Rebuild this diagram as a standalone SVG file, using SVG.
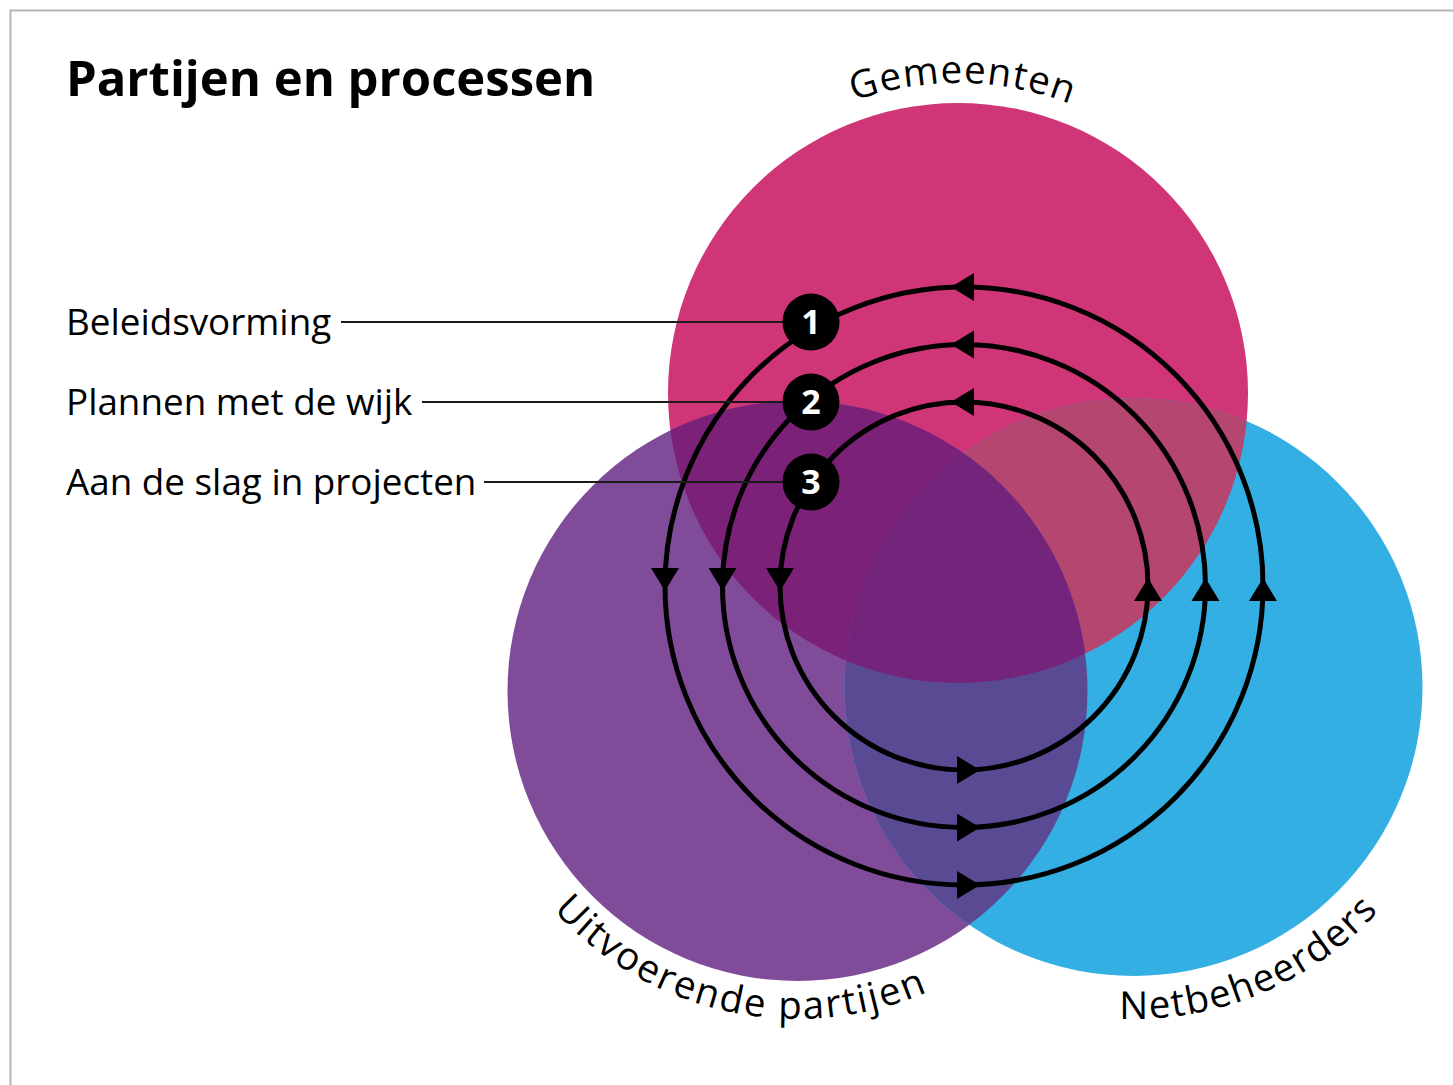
<svg xmlns="http://www.w3.org/2000/svg" xmlns:xlink="http://www.w3.org/1999/xlink" width="1453" height="1085" viewBox="0 0 1453 1085">
  <style>
    .title { font-family: "Open Sans", "Noto Sans", "Liberation Sans", sans-serif; font-weight: 700; font-size: 49px; fill: #000; }
    .label { font-family: "Open Sans", "Noto Sans", "Liberation Sans", sans-serif; font-size: 36.8px; fill: #000; }
    .arcl { font-family: "Open Sans", "Noto Sans", "Liberation Sans", sans-serif; font-size: 38.5px; fill: #000; }
    .badge circle { fill: #000; }
    .badge text { font-family: "Open Sans", "Noto Sans", "Liberation Sans", sans-serif; font-weight: 700; font-size: 34px; fill: #fff; text-anchor: middle; }
    .lead { stroke: #1a1a1a; stroke-width: 2; fill: none; }
    .ring { stroke: #000; stroke-width: 5; fill: none; }
    .ah { fill: #000; }
  </style>
  <defs>
    <clipPath id="clipM"><circle cx="958" cy="393" r="290"/></clipPath>
    <clipPath id="clipP"><circle cx="797.5" cy="691" r="290"/></clipPath>
    <path id="ah" d="M12,0 L-11,-14 L-11,14 Z"/>
    <path id="arcG" d="M648,393 A310,310 0 0 1 1268,393"/>
    <path id="arcU" d="M469.5,691 A328,328 0 0 0 1125.5,691"/>
    <path id="arcN" d="M801.5,687 A332,332 0 0 0 1465.5,687"/>
  </defs>

  <rect x="0" y="0" width="1453" height="1085" fill="#fff"/>
  <rect x="10.5" y="10.5" width="1470" height="1100" fill="none" stroke="#b5b5b5" stroke-width="2"/>

  <text class="title" x="66" y="96">Partijen en processen</text>

  <!-- Party circles -->
  <g id="gemeenten">
    <circle cx="958" cy="393" r="290" fill="#CF3577"/>
    <text class="arcl" letter-spacing="1.2"><textPath href="#arcG" startOffset="50.5%" text-anchor="middle">Gemeenten</textPath></text>
  </g>
  <g id="uitvoerende">
    <circle cx="797.5" cy="691" r="290" fill="#804C9A"/>
    <text class="arcl" letter-spacing="2"><textPath href="#arcU" startOffset="43.2%" text-anchor="middle">Uitvoerende partijen</textPath></text>
  </g>
  <g id="netbeheerders">
    <circle cx="1133.5" cy="687" r="289" fill="#33AFE4"/>
    <text class="arcl" letter-spacing="1.5"><textPath href="#arcN" startOffset="62.6%" text-anchor="middle">Netbeheerders</textPath></text>
  </g>
  <g id="overlaps">
    <g clip-path="url(#clipM)">
      <circle cx="797.5" cy="691" r="290" fill="#7C2178"/>
      <circle cx="1133.5" cy="687" r="289" fill="#B5466F"/>
    </g>
    <g clip-path="url(#clipP)">
      <circle cx="1133.5" cy="687" r="289" fill="#5A4A94"/>
    </g>
    <g clip-path="url(#clipM)">
      <g clip-path="url(#clipP)">
        <circle cx="1133.5" cy="687" r="289" fill="#74247A"/>
      </g>
    </g>
  </g>

  <!-- Process cycles and leader lines -->
  <g id="connectors">
    <circle class="ring" cx="964" cy="586" r="299"/>
    <circle class="ring" cx="964" cy="586" r="241.5"/>
    <circle class="ring" cx="964" cy="586" r="184"/>
    <use href="#ah" class="ah" transform="translate(963,287) rotate(180)"/>
    <use href="#ah" class="ah" transform="translate(963,344.5) rotate(180)"/>
    <use href="#ah" class="ah" transform="translate(963,402) rotate(180)"/>
    <use href="#ah" class="ah" transform="translate(665,579) rotate(90)"/>
    <use href="#ah" class="ah" transform="translate(722.5,579) rotate(90)"/>
    <use href="#ah" class="ah" transform="translate(780,579) rotate(90)"/>
    <use href="#ah" class="ah" transform="translate(1263,590) rotate(-90)"/>
    <use href="#ah" class="ah" transform="translate(1205.5,590) rotate(-90)"/>
    <use href="#ah" class="ah" transform="translate(1148,590) rotate(-90)"/>
    <use href="#ah" class="ah" transform="translate(968,885)"/>
    <use href="#ah" class="ah" transform="translate(968,827.5)"/>
    <use href="#ah" class="ah" transform="translate(968,770)"/>
    <line class="lead" x1="341" y1="322" x2="800" y2="322"/>
    <line class="lead" x1="422" y1="402" x2="800" y2="402"/>
    <line class="lead" x1="484" y1="482" x2="800" y2="482"/>
  </g>

  <g id="beleidsvorming">
    <text class="label" x="66" y="335">Beleidsvorming</text>
    <g class="badge"><circle cx="811" cy="322" r="28.5"/><text x="811" y="334">1</text></g>
  </g>
  <g id="plannen">
    <text class="label" x="66" y="415">Plannen met de wijk</text>
    <g class="badge"><circle cx="811" cy="402" r="28.5"/><text x="811" y="414">2</text></g>
  </g>
  <g id="projecten">
    <text class="label" x="66" y="495">Aan de slag in projecten</text>
    <g class="badge"><circle cx="811" cy="482" r="28.5"/><text x="811" y="494">3</text></g>
  </g>
</svg>
